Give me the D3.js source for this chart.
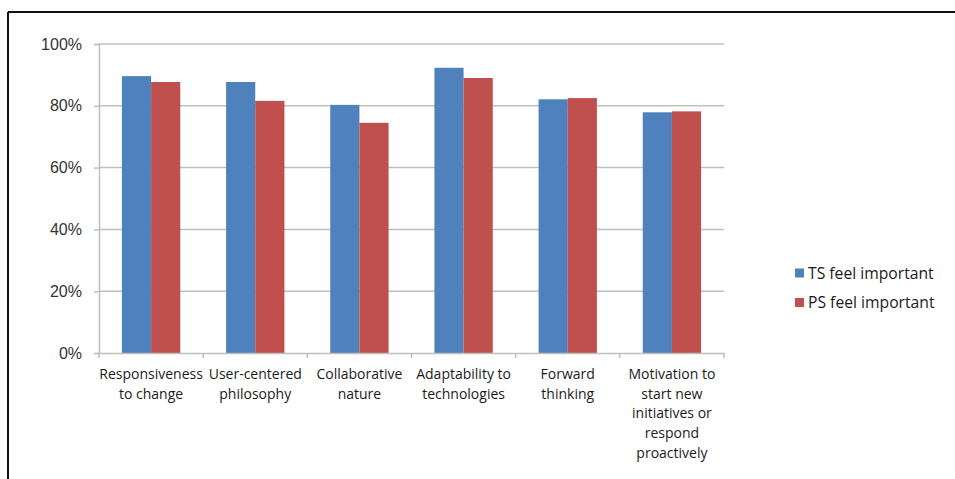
<!DOCTYPE html>
<html>
<head>
<meta charset="utf-8">
<script src="https://cdn.jsdelivr.net/npm/d3@7"></script>
<style>
  html, body { margin: 0; padding: 0; background: #fff; }
  svg { display: block; }
  text { font-family: "Open Sans", "Liberation Sans", sans-serif; fill: #1a1a1a; }
</style>
</head>
<body>
<svg id="chart" width="955" height="479"></svg>
<script>
// Survey categories (line breaks as wrapped under each group)
const categories = [
  "Responsiveness\nto change",
  "User-centered\nphilosophy",
  "Collaborative\nnature",
  "Adaptability to\ntechnologies",
  "Forward\nthinking",
  "Motivation to\nstart new\ninitiatives or\nrespond\nproactively"
];
const seriesNames = ["TS feel important", "PS feel important"];
const tsValues = [0.896, 0.877, 0.803, 0.923, 0.821, 0.779];
const psValues = [0.877, 0.816, 0.745, 0.890, 0.825, 0.782];
const yTicks = [0, 0.2, 0.4, 0.6, 0.8, 1.0];
const colors = ["#4F81BD", "#C0504D"];

const svg = d3.select("#chart");

// Outer frame: top and left edges only
svg.append("line").attr("x1", 8).attr("x2", 955).attr("y1", 12).attr("y2", 12)
  .attr("stroke", "#111").attr("stroke-width", 2);
svg.append("line").attr("x1", 8).attr("x2", 8).attr("y1", 12).attr("y2", 479)
  .attr("stroke", "#111").attr("stroke-width", 2);

const plot = { left: 99, right: 724, top: 44, bottom: 353 };

const x = d3.scaleBand().domain(d3.range(categories.length))
  .range([plot.left, plot.right]).paddingInner(0).paddingOuter(0);
const y = d3.scaleLinear().domain([0, 1]).range([plot.bottom, plot.top]);

const groupPad = x.bandwidth() * 0.22;
const xs = d3.scaleBand().domain([0, 1])
  .range([groupPad, x.bandwidth() - groupPad]).padding(0);

// Horizontal gridlines
svg.append("g").selectAll("line").data(yTicks.filter(d => d > 0)).join("line")
  .attr("x1", plot.left).attr("x2", plot.right)
  .attr("y1", d => y(d)).attr("y2", d => y(d))
  .attr("stroke", "#bfbfbf").attr("stroke-width", 1.5);

// Y axis
const yAxis = svg.append("g").attr("transform", `translate(${plot.left},0)`)
  .call(d3.axisLeft(y).tickValues(yTicks).tickFormat(d3.format(".0%"))
    .tickSize(5).tickPadding(12));
yAxis.select(".domain").attr("stroke", "#bfbfbf").attr("stroke-width", 1.5);
yAxis.selectAll(".tick line").attr("stroke", "#bfbfbf").attr("stroke-width", 1.5);
yAxis.selectAll(".tick text").attr("font-size", 16)
  .style("font-family", "'Liberation Sans', sans-serif").style("fill", "#333");

// Bars
const groups = svg.append("g").selectAll("g").data(categories).join("g")
  .attr("transform", (d, i) => `translate(${x(i)},0)`);
groups.selectAll("rect")
  .data((d, i) => [tsValues[i], psValues[i]])
  .join("rect")
  .attr("x", (d, j) => xs(j))
  .attr("width", xs.bandwidth())
  .attr("y", d => y(d))
  .attr("height", d => y(0) - y(d))
  .attr("fill", (d, j) => colors[j]);

// X axis
const xAxis = svg.append("g").attr("transform", `translate(0,${plot.bottom})`)
  .call(d3.axisBottom(x).tickSize(0).tickFormat(""));
xAxis.select(".domain").attr("stroke", "#bfbfbf").attr("stroke-width", 1.5);
svg.append("g").selectAll("line")
  .data(d3.range(categories.length + 1)).join("line")
  .attr("x1", i => plot.left + i * x.bandwidth())
  .attr("x2", i => plot.left + i * x.bandwidth())
  .attr("y1", plot.bottom).attr("y2", plot.bottom + 5)
  .attr("stroke", "#bfbfbf").attr("stroke-width", 1.5);

// Category labels
const labels = svg.append("g").selectAll("text").data(categories).join("text")
  .attr("text-anchor", "middle")
  .attr("font-size", 14)
  .attr("x", (d, i) => x(i) + x.bandwidth() / 2)
  .attr("y", plot.bottom + 26);
labels.selectAll("tspan").data(d => d.split("\n")).join("tspan")
  .attr("x", function () { return this.parentNode.getAttribute("x"); })
  .attr("dy", (d, k) => k === 0 ? 0 : 19.7)
  .text(d => d);

// Legend
const legend = svg.append("g").selectAll("g").data(seriesNames).join("g")
  .attr("transform", (d, i) => `translate(795,${273 + i * 29.5})`);
legend.append("rect").attr("x", 0).attr("y", -4.5).attr("width", 9).attr("height", 9)
  .attr("fill", (d, i) => colors[i]);
legend.append("text").attr("x", 13).attr("y", 0).attr("dy", "0.35em")
  .attr("font-size", 15.7).text(d => d);
</script>
</body>
</html>
